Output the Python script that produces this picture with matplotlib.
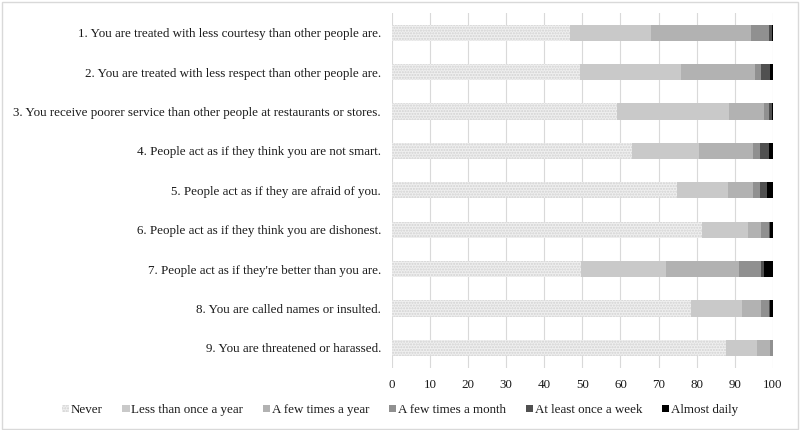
import numpy as np
import matplotlib
matplotlib.use("Agg")
import matplotlib.pyplot as plt
import matplotlib.patches as ptc

plt.rcParams['font.family'] = ['Liberation Serif', 'DejaVu Serif']

items = [
    "1. You are treated with less courtesy than other people are.",
    "2. You are treated with less respect than other people are.",
    "3. You receive poorer service than other people at restaurants or stores.",
    "4. People act as if they think you are not smart.",
    "5. People act as if they are afraid of you.",
    "6. People act as if they think you are dishonest.",
    "7. People act as if they're better than you are.",
    "8. You are called names or insulted.",
    "9. You are threatened or harassed.",
]
answers = ["Never", "Less than once a year", "A few times a year",
           "A few times a month", "At least once a week", "Almost daily"]

never        = [46.7, 49.3, 59.1, 63.1, 74.8, 81.5, 49.7, 78.5, 87.6]
less_yearly  = [21.4, 26.7, 29.4, 17.5, 13.4, 11.9, 22.2, 13.4, 8.3]
few_yearly   = [26.2, 19.2, 9.1, 14.3, 6.7, 3.4, 19.1, 5.0, 3.4]
few_monthly  = [4.8, 1.7, 1.5, 1.8, 1.8, 2.3, 5.8, 2.2, 0.7]
weekly       = [0.7, 2.4, 0.7, 2.4, 1.7, 0.2, 0.8, 0.2, 0.0]
daily        = [0.2, 0.7, 0.2, 0.9, 1.6, 0.7, 2.4, 0.7, 0.0]

series = [never, less_yearly, few_yearly, few_monthly, weekly, daily]
colours = ['#efefef', '#c9c9c9', '#b2b2b2', '#909090', '#505050', '#000000']

fs = 9.4
fig = plt.figure(figsize=(8, 4.3), dpi=100)
ax = fig.add_axes([0.49, 0.145, 0.476, 0.825])

y = np.arange(len(items))
left = np.zeros(len(items))
for i, (vals, col) in enumerate(zip(series, colours)):
    vals = np.array(vals)
    if i == 0:
        ax.barh(y, vals, left=left, height=0.41, color=col, hatch='......',
                edgecolor='#d2d2d2', linewidth=0, label=answers[i], zorder=3)
    else:
        ax.barh(y, vals, left=left, height=0.41, color=col, linewidth=0,
                label=answers[i], zorder=3)
    left += vals

ax.set_ylim(len(items) - 0.5, -0.5)
ax.set_xlim(0, 100)
ax.set_xticks(np.arange(0, 101, 10))
ax.set_yticks(y)
ax.set_yticklabels(items, fontsize=fs)
ax.tick_params(axis='both', length=0, labelsize=fs, colors='#1a1a1a')
ax.tick_params(axis='x', pad=8)
ax.tick_params(axis='y', pad=8)
ax.grid(axis='x', color='#d9d9d9', linewidth=0.8, zorder=0)
for s in ax.spines.values():
    s.set_visible(False)

leg = fig.legend(loc='lower center', bbox_to_anchor=(0.5, 0.005), ncol=6, frameon=False,
                 fontsize=fs, handlelength=0.55, handleheight=0.55, handletextpad=0.15,
                 columnspacing=1.5)
for t in leg.get_texts():
    t.set_color('#1a1a1a')

fig.patches.append(ptc.Rectangle((0.002, 0.003), 0.995, 0.993, transform=fig.transFigure,
                                 fill=False, edgecolor='#d9d9d9', linewidth=1))

fig.savefig("out.png", dpi=100)
